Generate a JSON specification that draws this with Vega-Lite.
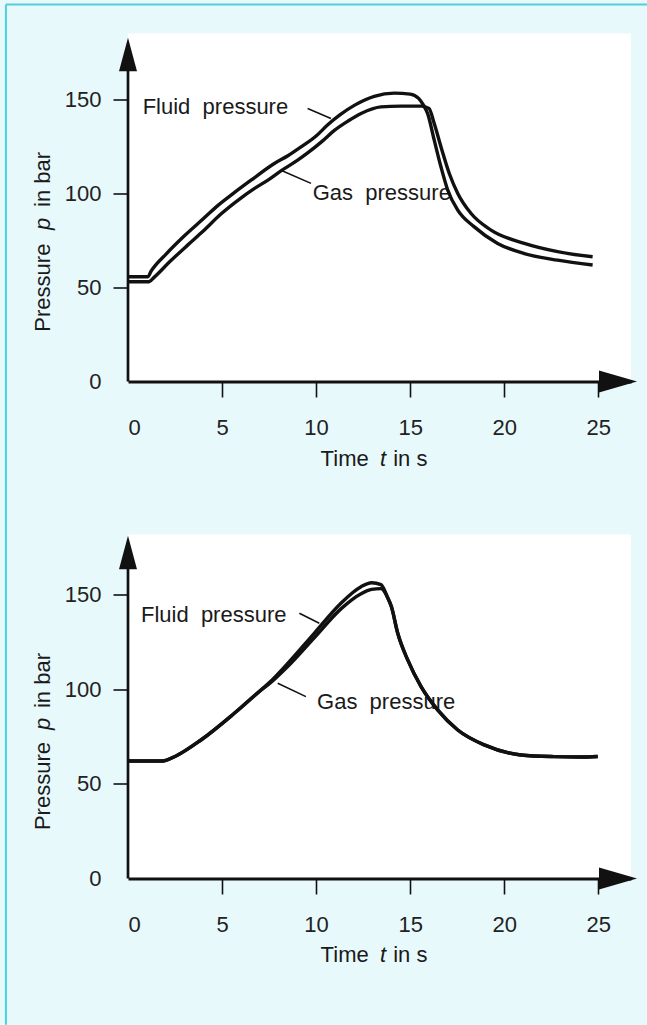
{
  "$schema": "https://vega.github.io/schema/vega-lite/v6.json",
  "background": "#e8f9fc",
  "padding": {"left": 4, "top": 3.5, "right": 0, "bottom": 0},
  "spacing": 153,
  "bounds": "flush",
  "config": {
    "view": {"fill": "white", "stroke": null},
    "font": "Liberation Sans",
    "text": {"font": "Liberation Sans", "fontSize": 22, "color": "#1a1a1a"},
    "axis": {"labelFont": "Liberation Sans", "labelFontSize": 22, "labelColor": "#222", "grid": false, "title": null}
  },
  "datasets": {
    "topCurves": [
      {"series": "Fluid", "t": 0, "p": 55.7}, {"series": "Fluid", "t": 1.06, "p": 55.7}, {"series": "Fluid", "t": 1.22, "p": 58.5},
      {"series": "Fluid", "t": 2.0, "p": 67.5}, {"series": "Fluid", "t": 3.0, "p": 77.5}, {"series": "Fluid", "t": 4.0, "p": 86.5},
      {"series": "Fluid", "t": 4.77, "p": 93.5}, {"series": "Fluid", "t": 5.6, "p": 100}, {"series": "Fluid", "t": 6.54, "p": 107},
      {"series": "Fluid", "t": 7.78, "p": 115.9}, {"series": "Fluid", "t": 8.5, "p": 120}, {"series": "Fluid", "t": 9.2, "p": 124.7},
      {"series": "Fluid", "t": 10.0, "p": 130.5}, {"series": "Fluid", "t": 10.62, "p": 136.5}, {"series": "Fluid", "t": 11.3, "p": 142},
      {"series": "Fluid", "t": 12.03, "p": 146.8}, {"series": "Fluid", "t": 13.09, "p": 151.6}, {"series": "Fluid", "t": 14.16, "p": 153.3},
      {"series": "Fluid", "t": 15.0, "p": 152.8}, {"series": "Fluid", "t": 15.45, "p": 150.5}, {"series": "Fluid", "t": 15.7, "p": 147},
      {"series": "Fluid", "t": 15.93, "p": 142.4}, {"series": "Fluid", "t": 16.28, "p": 128.3}, {"series": "Fluid", "t": 16.64, "p": 114},
      {"series": "Fluid", "t": 17.0, "p": 101.7}, {"series": "Fluid", "t": 17.53, "p": 91.1}, {"series": "Fluid", "t": 18.41, "p": 82.2},
      {"series": "Fluid", "t": 19.65, "p": 73.4}, {"series": "Fluid", "t": 21.07, "p": 68}, {"series": "Fluid", "t": 22.84, "p": 64.5},
      {"series": "Fluid", "t": 24.7, "p": 61.9},
      {"series": "Gas", "t": 0, "p": 53}, {"series": "Gas", "t": 1.1, "p": 53}, {"series": "Gas", "t": 1.4, "p": 55.5},
      {"series": "Gas", "t": 2.2, "p": 63.5}, {"series": "Gas", "t": 3.17, "p": 72.5}, {"series": "Gas", "t": 4.0, "p": 80},
      {"series": "Gas", "t": 4.94, "p": 89}, {"series": "Gas", "t": 6.0, "p": 97.5}, {"series": "Gas", "t": 6.71, "p": 102.5},
      {"series": "Gas", "t": 7.5, "p": 107.5}, {"series": "Gas", "t": 8.13, "p": 112}, {"series": "Gas", "t": 9.0, "p": 117.5},
      {"series": "Gas", "t": 9.55, "p": 121.5}, {"series": "Gas", "t": 10.3, "p": 127.5}, {"series": "Gas", "t": 10.97, "p": 133.5},
      {"series": "Gas", "t": 11.7, "p": 138.5}, {"series": "Gas", "t": 12.39, "p": 142.5}, {"series": "Gas", "t": 13.45, "p": 146},
      {"series": "Gas", "t": 14.5, "p": 146.4}, {"series": "Gas", "t": 15.6, "p": 146.4}, {"series": "Gas", "t": 16.0, "p": 145.2},
      {"series": "Gas", "t": 16.28, "p": 137.1}, {"series": "Gas", "t": 16.64, "p": 124.7}, {"series": "Gas", "t": 17.08, "p": 110.6},
      {"series": "Gas", "t": 17.53, "p": 100}, {"series": "Gas", "t": 18.24, "p": 89.3}, {"series": "Gas", "t": 19.3, "p": 80.5},
      {"series": "Gas", "t": 21.07, "p": 73.4}, {"series": "Gas", "t": 22.84, "p": 69}, {"series": "Gas", "t": 24.7, "p": 66.3}
    ],
    "botCurves": [
      {"series": "Fluid", "t": 0, "p": 62.1}, {"series": "Fluid", "t": 1.84, "p": 62.1}, {"series": "Fluid", "t": 2.5, "p": 64.5},
      {"series": "Fluid", "t": 3.88, "p": 73.2}, {"series": "Fluid", "t": 5.65, "p": 87.3}, {"series": "Fluid", "t": 7.07, "p": 99.6},
      {"series": "Fluid", "t": 7.5, "p": 103.4}, {"series": "Fluid", "t": 8.49, "p": 113.7}, {"series": "Fluid", "t": 9.9, "p": 129.6},
      {"series": "Fluid", "t": 11.32, "p": 145.5}, {"series": "Fluid", "t": 12.39, "p": 154.2}, {"series": "Fluid", "t": 12.95, "p": 156.3},
      {"series": "Fluid", "t": 13.45, "p": 155.3}, {"series": "Fluid", "t": 13.8, "p": 148.5}, {"series": "Fluid", "t": 14.0, "p": 143.7},
      {"series": "Fluid", "t": 14.34, "p": 129.6}, {"series": "Fluid", "t": 14.87, "p": 115.5}, {"series": "Fluid", "t": 15.58, "p": 101.4},
      {"series": "Fluid", "t": 16.46, "p": 89.1}, {"series": "Fluid", "t": 17.53, "p": 78.5}, {"series": "Fluid", "t": 18.94, "p": 70.6},
      {"series": "Fluid", "t": 20.89, "p": 65.3}, {"series": "Fluid", "t": 22.66, "p": 64.4}, {"series": "Fluid", "t": 24.0, "p": 64.2},
      {"series": "Fluid", "t": 24.97, "p": 64.5},
      {"series": "Gas", "t": 0, "p": 62.1}, {"series": "Gas", "t": 1.84, "p": 62.1}, {"series": "Gas", "t": 2.5, "p": 64.5},
      {"series": "Gas", "t": 3.88, "p": 73.2}, {"series": "Gas", "t": 5.65, "p": 87.3}, {"series": "Gas", "t": 7.07, "p": 99.6},
      {"series": "Gas", "t": 7.5, "p": 102.8}, {"series": "Gas", "t": 8.49, "p": 112}, {"series": "Gas", "t": 9.9, "p": 127.2},
      {"series": "Gas", "t": 11.32, "p": 142.5}, {"series": "Gas", "t": 12.39, "p": 150.5}, {"series": "Gas", "t": 12.95, "p": 152.8},
      {"series": "Gas", "t": 13.45, "p": 153.2}, {"series": "Gas", "t": 13.8, "p": 148.5}, {"series": "Gas", "t": 14.0, "p": 143.7},
      {"series": "Gas", "t": 14.34, "p": 129.6}, {"series": "Gas", "t": 14.87, "p": 115.5}, {"series": "Gas", "t": 15.58, "p": 101.4},
      {"series": "Gas", "t": 16.46, "p": 89.1}, {"series": "Gas", "t": 17.53, "p": 78.5}, {"series": "Gas", "t": 18.94, "p": 70.6},
      {"series": "Gas", "t": 20.89, "p": 65.3}, {"series": "Gas", "t": 22.66, "p": 64.4}, {"series": "Gas", "t": 24.0, "p": 64.2},
      {"series": "Gas", "t": 24.97, "p": 64.5}
    ],
    "topNotes": [
      {"label": "Fluid\u00a0 pressure", "t": 0.78, "p": 146},
      {"label": "Gas\u00a0 pressure", "t": 9.82, "p": 100}
    ],
    "topLeaders": [
      {"t": 9.55, "p": 145.1, "t2": 10.79, "p2": 139.8},
      {"t": 8.13, "p": 112.3, "t2": 9.73, "p2": 105.3}
    ],
    "botNotes": [
      {"label": "Fluid\u00a0 pressure", "t": 0.69, "p": 139.3},
      {"label": "Gas\u00a0 pressure", "t": 10.05, "p": 93.4}
    ],
    "botLeaders": [
      {"t": 9.11, "p": 140.2, "t2": 10.17, "p2": 134.9},
      {"t": 7.96, "p": 103.2, "t2": 9.46, "p2": 96.1}
    ],
    "frame": [
      {"t": -6.49, "p": 200.4, "t2": 27.6, "p2": 200.4},
      {"t": -6.49, "p": 200.4, "t2": -6.49, "p2": -342}
    ],
    "topYAxisLine": [{"t": 0, "p": 0, "t2": 0, "p2": 175}],
    "botYAxisLine": [{"t": 0, "p": 0, "t2": 0, "p2": 170}],
    "topYArrow": [{"t": 0, "p": 173.8}],
    "botYArrow": [{"t": 0, "p": 172.3}],
    "xArrow": [{"t": 26.05, "p": 0}],
    "topXTitle": [{"label": "Time", "t": 10.24, "p": -41}, {"label": "in s", "t": 14.1, "p": -41}],
    "topXTitleIt": [{"label": "t", "t": 13.4, "p": -41}],
    "botXTitle": [{"label": "Time", "t": 10.24, "p": -40.5}, {"label": "in s", "t": 14.1, "p": -40.5}],
    "botXTitleIt": [{"label": "t", "t": 13.4, "p": -40.5}],
    "topYTitle": [{"label": "Pressure", "t": -4.12, "p": 26.5}, {"label": "in bar", "t": -4.12, "p": 92.8}],
    "topYTitleIt": [{"label": "p", "t": -4.12, "p": 80.5}],
    "botYTitle": [{"label": "Pressure", "t": -4.12, "p": 25.6}, {"label": "in bar", "t": -4.12, "p": 90.1}],
    "botYTitleIt": [{"label": "p", "t": -4.12, "p": 78.5}]
  },
  "vconcat": [
    {
      "width": 503,
      "height": 348,
      "encoding": {
        "x": {"field": "t", "type": "quantitative", "scale": {"domain": [0, 26.74], "nice": false, "zero": false},
          "axis": {"values": [0, 5, 10, 15, 20, 25], "domain": true, "domainWidth": 3, "domainColor": "#111", "tickSize": 15.5, "tickWidth": 1.6,
            "tickColor": {"condition": {"test": "datum.value === 0", "value": "transparent"}, "value": "#111"},
            "labelPadding": 30, "labelBaseline": "middle"}},
        "y": {"field": "p", "type": "quantitative", "scale": {"domain": [0, 185], "nice": false, "zero": false},
          "axis": {"values": [0, 50, 100, 150], "domain": false, "tickSize": 15, "tickWidth": 1.6,
            "tickColor": {"condition": {"test": "datum.value === 0", "value": "transparent"}, "value": "#111"},
            "labelPadding": 12, "labelFlush": false}}
      },
      "layer": [
        {"data": {"name": "frame"}, "mark": {"type": "rule", "color": "#4fcfe0", "strokeWidth": 2},
          "encoding": {"x2": {"field": "t2"}, "y2": {"field": "p2"}}},
        {"data": {"name": "topNotes"}, "mark": {"type": "text", "align": "left", "baseline": "middle"},
          "encoding": {"text": {"field": "label"}}},
        {"data": {"name": "topLeaders"}, "mark": {"type": "rule", "color": "#111", "strokeWidth": 1.5},
          "encoding": {"x2": {"field": "t2"}, "y2": {"field": "p2"}}},
        {"data": {"name": "topCurves"}, "mark": {"type": "line", "color": "#111", "strokeWidth": 3.4, "interpolate": "monotone"},
          "encoding": {"detail": {"field": "series"}}},
        {"data": {"name": "topYAxisLine"}, "mark": {"type": "rule", "color": "#111", "strokeWidth": 2.7},
          "encoding": {"x2": {"field": "t2"}, "y2": {"field": "p2"}}},
        {"data": {"name": "topYArrow"}, "mark": {"type": "point", "filled": true, "color": "#111", "opacity": 1, "strokeWidth": 0, "shape": "M0,-1L0.537,1L-0.537,1Z", "size": 1122}},
        {"data": {"name": "xArrow"}, "mark": {"type": "point", "filled": true, "color": "#111", "opacity": 1, "strokeWidth": 0, "shape": "M1,0L-1,0.58L-1,-0.58Z", "size": 1444}},
        {"data": {"name": "topXTitle"}, "mark": {"type": "text", "align": "left", "baseline": "middle"},
          "encoding": {"text": {"field": "label"}}},
        {"data": {"name": "topXTitleIt"}, "mark": {"type": "text", "align": "left", "baseline": "middle", "fontStyle": "italic"},
          "encoding": {"text": {"field": "label"}}},
        {"data": {"name": "topYTitle"}, "mark": {"type": "text", "align": "left", "baseline": "alphabetic", "angle": 270},
          "encoding": {"text": {"field": "label"}}},
        {"data": {"name": "topYTitleIt"}, "mark": {"type": "text", "align": "left", "baseline": "alphabetic", "angle": 270, "fontStyle": "italic"},
          "encoding": {"text": {"field": "label"}}}
      ]
    },
    {
      "width": 503,
      "height": 344,
      "encoding": {
        "x": {"field": "t", "type": "quantitative", "scale": {"domain": [0, 26.74], "nice": false, "zero": false},
          "axis": {"values": [0, 5, 10, 15, 20, 25], "domain": true, "domainWidth": 3, "domainColor": "#111", "tickSize": 15.5, "tickWidth": 1.6,
            "tickColor": {"condition": {"test": "datum.value === 0", "value": "transparent"}, "value": "#111"},
            "labelPadding": 30, "labelBaseline": "middle"}},
        "y": {"field": "p", "type": "quantitative", "scale": {"domain": [0, 181.8], "nice": false, "zero": false},
          "axis": {"values": [0, 50, 100, 150], "domain": false, "tickSize": 15, "tickWidth": 1.6,
            "tickColor": {"condition": {"test": "datum.value === 0", "value": "transparent"}, "value": "#111"},
            "labelPadding": 12, "labelFlush": false}}
      },
      "layer": [
        {"data": {"name": "botNotes"}, "mark": {"type": "text", "align": "left", "baseline": "middle"},
          "encoding": {"text": {"field": "label"}}},
        {"data": {"name": "botLeaders"}, "mark": {"type": "rule", "color": "#111", "strokeWidth": 1.5},
          "encoding": {"x2": {"field": "t2"}, "y2": {"field": "p2"}}},
        {"data": {"name": "botCurves"}, "mark": {"type": "line", "color": "#111", "strokeWidth": 3.4, "interpolate": "monotone"},
          "encoding": {"detail": {"field": "series"}}},
        {"data": {"name": "botYAxisLine"}, "mark": {"type": "rule", "color": "#111", "strokeWidth": 2.7},
          "encoding": {"x2": {"field": "t2"}, "y2": {"field": "p2"}}},
        {"data": {"name": "botYArrow"}, "mark": {"type": "point", "filled": true, "color": "#111", "opacity": 1, "strokeWidth": 0, "shape": "M0,-1L0.537,1L-0.537,1Z", "size": 1122}},
        {"data": {"name": "xArrow"}, "mark": {"type": "point", "filled": true, "color": "#111", "opacity": 1, "strokeWidth": 0, "shape": "M1,0L-1,0.58L-1,-0.58Z", "size": 1444}},
        {"data": {"name": "botXTitle"}, "mark": {"type": "text", "align": "left", "baseline": "middle"},
          "encoding": {"text": {"field": "label"}}},
        {"data": {"name": "botXTitleIt"}, "mark": {"type": "text", "align": "left", "baseline": "middle", "fontStyle": "italic"},
          "encoding": {"text": {"field": "label"}}},
        {"data": {"name": "botYTitle"}, "mark": {"type": "text", "align": "left", "baseline": "alphabetic", "angle": 270},
          "encoding": {"text": {"field": "label"}}},
        {"data": {"name": "botYTitleIt"}, "mark": {"type": "text", "align": "left", "baseline": "alphabetic", "angle": 270, "fontStyle": "italic"},
          "encoding": {"text": {"field": "label"}}}
      ]
    }
  ]
}
